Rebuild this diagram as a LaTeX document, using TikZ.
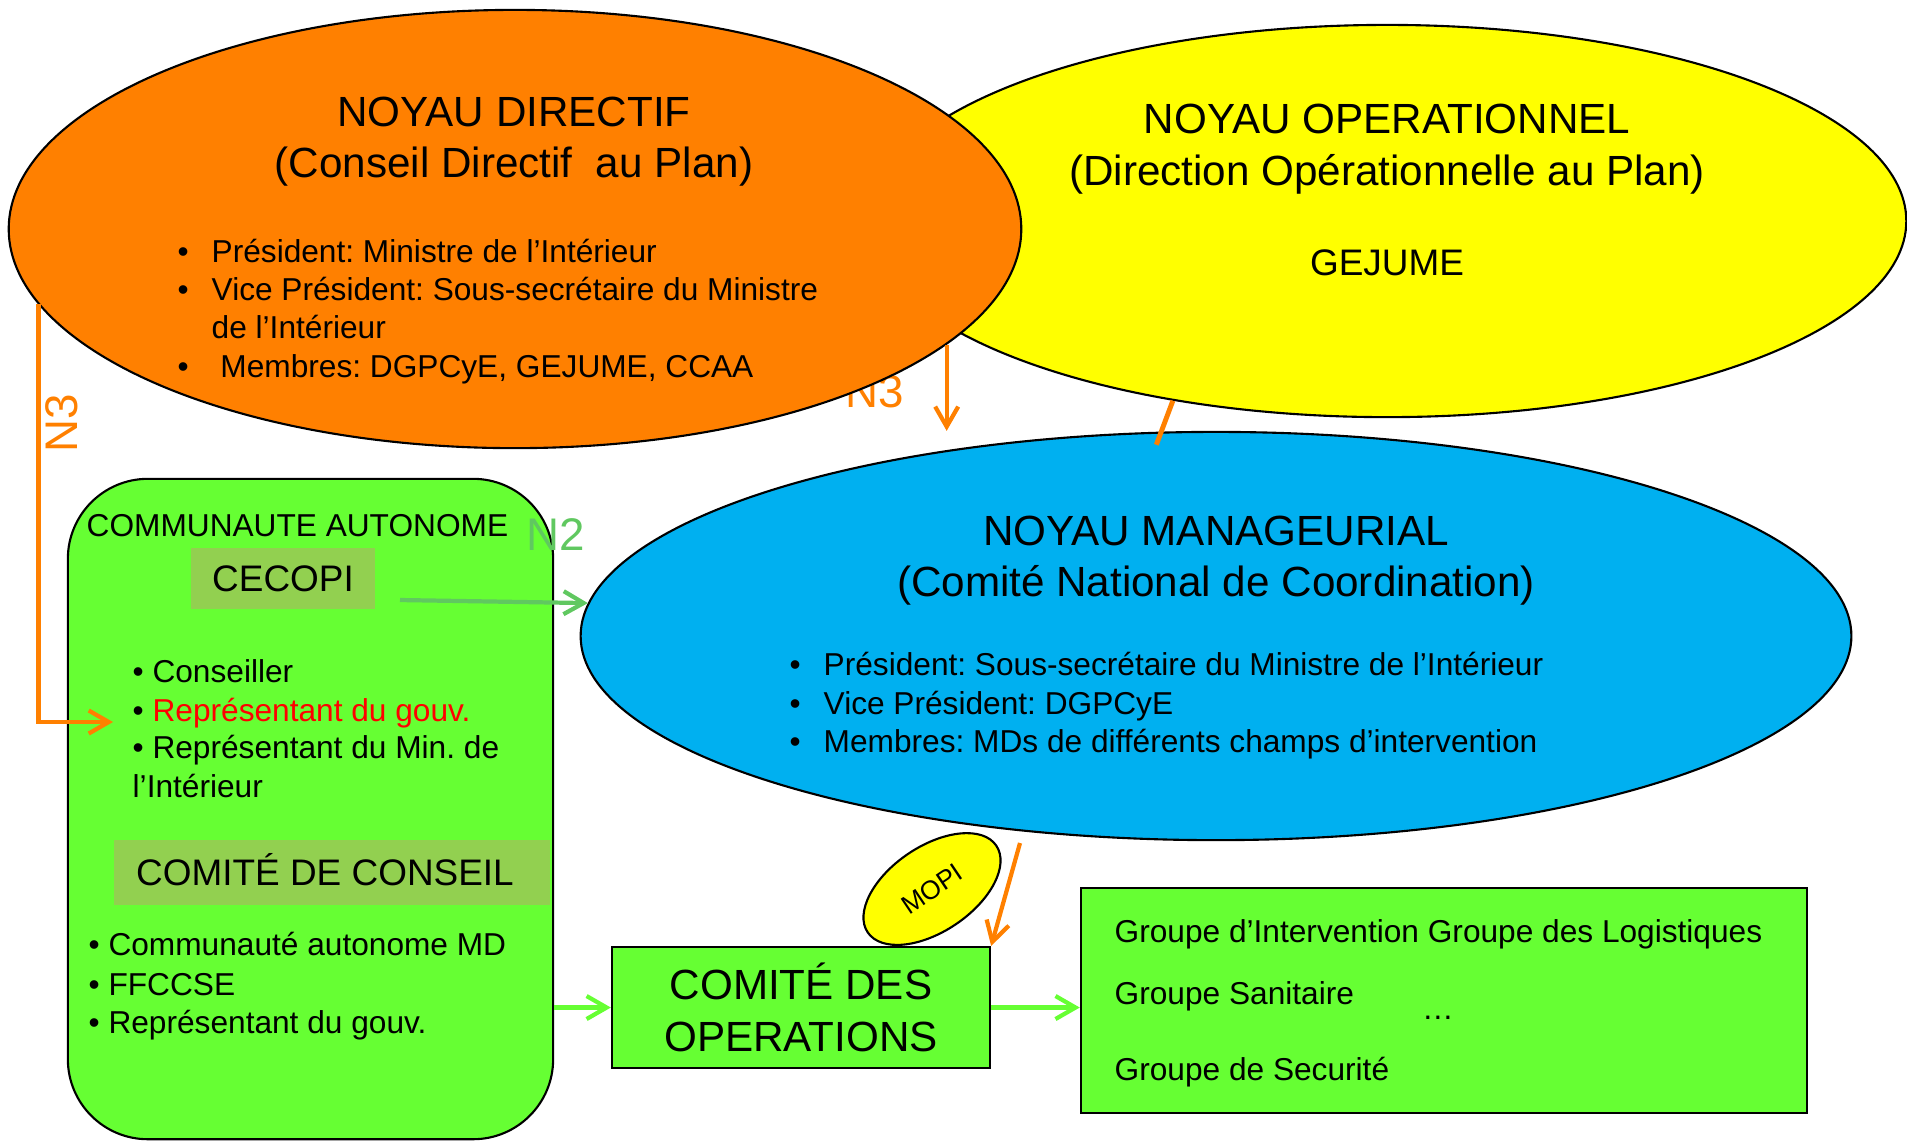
\documentclass[tikz,border=0pt]{standalone}
\usepackage{fontspec}
\setmainfont{Liberation Sans}
\usetikzlibrary{shapes.geometric,arrows.meta}
\definecolor{orangeND}{RGB}{255,128,0}
\definecolor{yellowNO}{RGB}{255,255,0}
\definecolor{blueNM}{RGB}{0,176,240}
\definecolor{greenCA}{RGB}{102,255,51}
\definecolor{oliveCA}{RGB}{146,208,80}
\definecolor{greenN2}{RGB}{96,200,96}
\newcommand{\bul}{\makebox[0.34cm][l]{\textbullet}}
\frenchspacing
\begin{document}
\begin{tikzpicture}[x=0.01cm, y=-0.01cm, >={Straight Barb[length=0.2cm,width=0.23cm]},
  ttl/.style={font=\fontsize{12}{14}\selectfont, anchor=base, inner sep=0pt},
  itm/.style={font=\fontsize{9}{11}\selectfont, anchor=base west, inner sep=0pt},
  lbl/.style={font=\fontsize{13}{15}\selectfont, inner sep=0pt},
  ell/.style={shape=ellipse, draw=black, semithick, inner sep=0pt},
  olive/.style={fill=oliveCA, inner sep=0pt, text height=0.265cm, text depth=0cm, font=\fontsize{10.5}{12}\selectfont},
  gbox/.style={draw=black, semithick, fill=greenCA, inner sep=0pt}]
\useasboundingbox (0,0) rectangle (1907,1141);
% noyaux
\node[ell, fill=yellowNO, minimum width=10.38cm, minimum height=3.92cm] (ope) at (1387,221) {};
\node[lbl, anchor=base west, text=orangeND] (n3b) at (845,407) {N3};
\node[ell, fill=orangeND, minimum width=10.12cm, minimum height=4.38cm] (dir) at (515,229) {};
\node[ell, fill=blueNM, minimum width=12.70cm, minimum height=4.08cm] (man) at (1216,636) {};
\node[ttl] (d1) at (514,126) {NOYAU DIRECTIF};
\node[ttl] (d2) at (514,177) {(Conseil Directif\ \ au Plan)};
\node[itm] (d3) at (177,262) {\bul Président: Ministre de l’Intérieur};
\node[itm] (d4) at (177,300) {\bul Vice Président: Sous-secrétaire du Ministre};
\node[itm] (d5) at (211,338) {de l’Intérieur};
\node[itm] (d6) at (177,377) {\bul\ Membres: DGPCyE, GEJUME, CCAA};
\node[ttl] (o1) at (1387,133) {NOYAU OPERATIONNEL};
\node[ttl] (o2) at (1387,185) {(Direction Opérationnelle au Plan)};
\node[ttl, font=\fontsize{10.5}{12}\selectfont] (o3) at (1387,275) {GEJUME};
\node[ttl] (m1) at (1216,545) {NOYAU MANAGEURIAL};
\node[ttl] (m2) at (1216,596) {(Comité National de Coordination)};
\node[itm] (m3) at (789,675) {\bul Président: Sous-secrétaire du Ministre de l’Intérieur};
\node[itm] (m4) at (789,714) {\bul Vice Président: DGPCyE};
\node[itm] (m5) at (789,752) {\bul Membres: MDs de différents champs d’intervention};
% communaute autonome
\node[gbox, rounded corners=0.8cm, minimum width=4.85cm, minimum height=6.6cm] (comm) at (310.5,809) {};
\node[itm] (c1) at (86,536) {COMMUNAUTE AUTONOME};
\node[lbl, anchor=base, text=greenN2] (n2) at (556,550) {N2};
\node[olive, minimum width=1.84cm, minimum height=0.61cm] (cecopi) at (283,578.5) {CECOPI};
\node[itm] (c2) at (132,682) {\textbullet\ Conseiller};
\node[itm] (c3) at (132,721) {\textbullet\ \textcolor{red}{Représentant du gouv.}};
\node[itm] (c4) at (132,758) {\textbullet\ Représentant du Min. de};
\node[itm] (c5) at (132,797) {l’Intérieur};
\node[olive, minimum width=4.35cm, minimum height=0.65cm] (cons) at (332,872) {\hspace*{-0.14cm}COMITÉ DE CONSEIL};
\node[itm] (c6) at (88,955) {\textbullet\ Communauté autonome MD};
\node[itm] (c7) at (88,995) {\textbullet\ FFCCSE};
\node[itm] (c8) at (88,1033) {\textbullet\ Représentant du gouv.};
% operations
\node[gbox, minimum width=3.78cm, minimum height=1.21cm, align=center, font=\fontsize{12}{14.8}\selectfont] (ops) at (801,1007.5) {COMITÉ DES\\OPERATIONS};
\node[gbox, minimum width=7.26cm, minimum height=2.25cm] (grp) at (1444,1000.5) {};
\node[itm] (g1) at (1114,942) {Groupe d’Intervention Groupe des Logistiques};
\node[itm] (g2) at (1114,1004) {Groupe Sanitaire};
\node[itm, anchor=base] (g3) at (1438,1019) {…};
\node[itm] (g4) at (1114,1080) {Groupe de Securité};
\node[ell, fill=yellowNO, rotate=34, minimum width=1.55cm, minimum height=0.85cm, font=\fontsize{7.5}{9}\selectfont] (mopi) at (932,889) {MOPI};
% liens
\coordinate (n3end) at (113,722);
\coordinate (n2start) at (400,600);
\coordinate (mopistart) at (1020,843);
\draw [->, very thick, draw=orangeND] (dir.189) |- (n3end);
\node[lbl, rotate=90, text=orangeND] (n3a) at (62,423) {N3};
\draw [->, very thick, draw=orangeND] (dir.345) -- (dir.345 |- man.north);
\draw [line width=1.4pt, draw=orangeND, shorten >=-0.14cm] (ope.220) -- (man.105);
\draw [->, very thick, draw=greenN2] (n2start) -- (man.177);
\draw [->, very thick, draw=greenCA] (ops.west -| comm.east) -- (ops.west);
\draw [->, very thick, draw=greenCA] (ops.east) -- (ops.east -| grp.west);
\draw [->, very thick, draw=orangeND] (mopistart) -- (ops.north east);
\end{tikzpicture}
\end{document}
